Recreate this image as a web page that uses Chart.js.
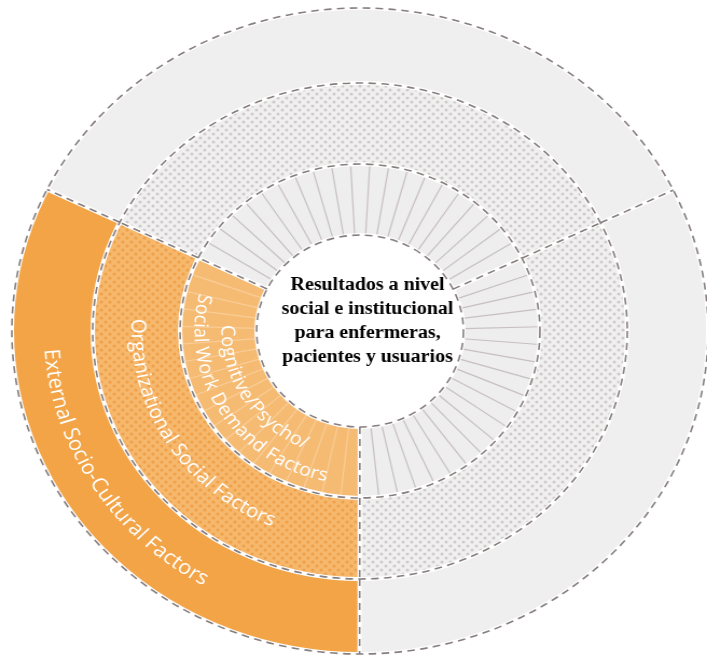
<!DOCTYPE html>
<html>
<head>
<meta charset="utf-8">
<script src="https://cdn.jsdelivr.net/npm/chart.js@4.4.1/dist/chart.umd.min.js"></script>
<style>
  html, body { margin: 0; padding: 0; background: #fff; }
  /* the reference wheel is a little wider than it is tall */
  #wheel { display: block; transform: scaleX(1.0778); transform-origin: 0 0; }
</style>
</head>
<body>
<canvas id="wheel" width="668" height="658"></canvas>
<script>
// segments clockwise from the upper-left boundary: upper, right, lower-left (orange)
const segmentLabels = ["Upper", "Right", "Lower left"];
const outerValues = [21, 19, 19];
const middleValues = [21, 19, 19];
const innerValues = [21, 19, 19];   // one unit per spoke of the inner ring
const ringTitles = [
    ["External Socio-Cultural Factors"],
    ["Organizational Social Factors"],
    ["Cognitive/Psycho/", "Social Work Demand Factors"]
];
const titledSegment = 2;
const centerLines = ["Resultados a nivel", "social e institucional", "para enfermeras,", "pacientes y usuarios"];

const canvas = document.getElementById("wheel");
const ctx = canvas.getContext("2d");

function dotPattern(bg, dot) {
    const c = document.createElement("canvas");
    c.width = 8;
    c.height = 8;
    const g = c.getContext("2d");
    g.fillStyle = bg;
    g.fillRect(0, 0, 8, 8);
    g.fillStyle = dot;
    [[2, 2], [6, 6]].forEach(p => {
        g.beginPath();
        g.arc(p[0], p[1], 1.5, 0, Math.PI * 2);
        g.fill();
    });
    return ctx.createPattern(c, "repeat");
}

const greyDots = dotPattern("#f0f0f0", "#d0c9c9");
const orangeDots = dotPattern("#f6b86c", "#ef9f48");
const spokeColors = ["#c8c0c0", "#c8c0c0", "#f9cd98"];

function radial(x, y, a, r0, r1) {
    ctx.beginPath();
    ctx.moveTo(x + r0 * Math.cos(a), y + r0 * Math.sin(a));
    ctx.lineTo(x + r1 * Math.cos(a), y + r1 * Math.sin(a));
    ctx.stroke();
}

// write text along an arc, reading anticlockwise with letter tops toward the centre
function arcText(text, x, y, r, midAngle) {
    const total = ctx.measureText(text).width;
    let a = midAngle + total / (2 * r);
    for (const ch of text) {
        const w = ctx.measureText(ch).width;
        const ac = a - w / (2 * r);
        ctx.save();
        ctx.translate(x + r * Math.cos(ac), y + r * Math.sin(ac));
        ctx.rotate(ac - Math.PI / 2);
        ctx.fillText(ch, 0, 0);
        ctx.restore();
        a -= w / r;
    }
}

const wheelPlugin = {
    id: "wheel",
    afterDatasetsDraw(chart) {
        const c = chart.ctx;
        const metas = chart.data.datasets.map((d, i) => chart.getDatasetMeta(i));
        const first = metas[0].data[0];
        const cx = first.x, cy = first.y;
        c.save();

        // spokes of the inner ring, one per data unit
        c.lineWidth = 1.2;
        metas[2].data.forEach((arc, i) => {
            const n = innerValues[i];
            const step = (arc.endAngle - arc.startAngle) / n;
            c.strokeStyle = spokeColors[i];
            for (let k = 1; k < n; k++) {
                radial(cx, cy, arc.startAngle + step * k, arc.innerRadius, arc.outerRadius);
            }
        });

        // white gaps, then the grey dashes on top
        const radii = [first.outerRadius].concat(metas.map(m => m.data[0].innerRadius));
        [["#ffffff", 4, []], ["#877e7e", 1.6, [7, 5]]].forEach(([color, w, dash]) => {
            c.strokeStyle = color;
            c.lineWidth = w;
            c.setLineDash(dash);
            metas.forEach(meta => meta.data.forEach(arc => {
                radial(cx, cy, arc.startAngle, arc.innerRadius, arc.outerRadius);
            }));
            radii.forEach(r => {
                c.beginPath();
                c.arc(cx, cy, r, 0, Math.PI * 2);
                c.stroke();
            });
        });
        c.setLineDash([]);

        // ring titles on the orange segments
        c.fillStyle = "#ffffff";
        c.textAlign = "center";
        c.textBaseline = "middle";
        const sizes = [20, 19, 18];
        const offsets = [[2], [-1], [-8, 17]];
        metas.forEach((meta, i) => {
            const arc = meta.data[titledSegment];
            const mid = (arc.startAngle + arc.endAngle) / 2;
            const rMid = (arc.innerRadius + arc.outerRadius) / 2;
            c.font = sizes[i] + "px 'Open Sans'";
            ringTitles[i].forEach((line, j) => {
                arcText(line, cx, cy, rMid + offsets[i][j], mid);
            });
        });

        // centre text
        c.fillStyle = "#000000";
        c.font = "bold 18.5px 'Liberation Serif'";
        centerLines.forEach((line, i) => {
            c.fillText(line, cx + 7, cy - 46 + i * 24);
        });
        c.restore();
    }
};

new Chart(ctx, {
    type: "doughnut",
    data: {
        labels: segmentLabels,
        datasets: [
            {
                label: ringTitles[0].join(" "),
                data: outerValues,
                weight: 75,
                borderWidth: 0,
                backgroundColor: ["#efefef", "#efefef", "#f2a447"]
            },
            {
                label: ringTitles[1].join(" "),
                data: middleValues,
                weight: 81,
                borderWidth: 0,
                backgroundColor: [greyDots, greyDots, orangeDots]
            },
            {
                label: ringTitles[2].join(" "),
                data: innerValues,
                weight: 71,
                borderWidth: 0,
                backgroundColor: ["#eeeeee", "#eeeeee", "#f6bb72"]
            }
        ]
    },
    options: {
        responsive: false,
        animation: false,
        events: [],
        radius: 323,
        cutout: "29.7%",
        rotation: -64,
        layout: { padding: { top: 4 } },
        plugins: {
            legend: { display: false },
            tooltip: { enabled: false }
        }
    },
    plugins: [wheelPlugin]
});
</script>
</body>
</html>
